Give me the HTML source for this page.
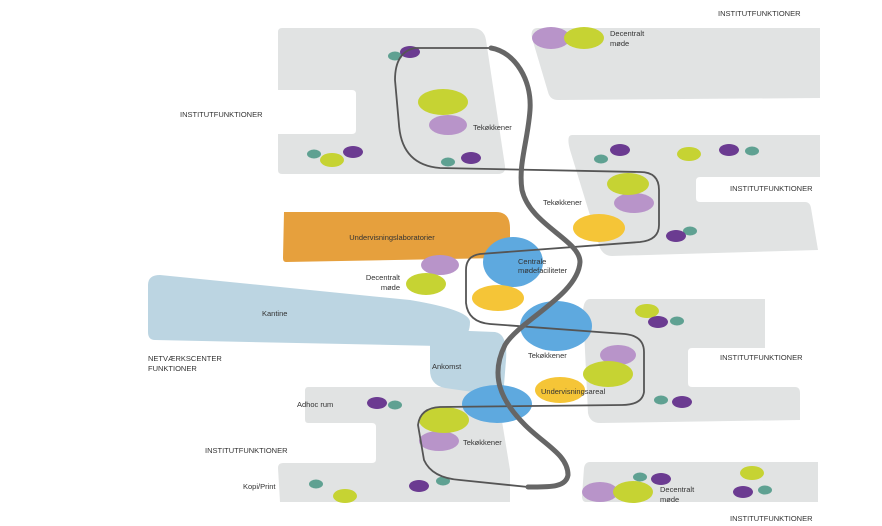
<!DOCTYPE html>
<html><head><meta charset="utf-8"><style>
html,body{margin:0;padding:0;background:#fff;}
svg{display:block;}
text{font-family:"Liberation Sans",sans-serif;font-size:7.5px;fill:#333;}
</style></head><body>
<svg width="882" height="526" viewBox="0 0 882 526" xmlns="http://www.w3.org/2000/svg">
<g fill="#e1e3e3">
<path d="M282,28 L472,28 Q484,28 486,40 L505,166 Q506,174 498,174 L282,174 Q278,174 278,170 L278,134 L352,134 Q356,134 356,130 L356,94 Q356,90 352,90 L278,90 L278,32 Q278,28 282,28 Z"/>
<path d="M538,28 L820,28 L820,98 L558,100 Q550,100 548,92 L532,38 Q530,28 538,28 Z"/>
<path d="M572,135 L820,135 L820,177 L700,177 Q696,177 696,181 L696,198 Q696,202 700,202 L805,202 Q810,202 811,208 L818,250 L612,256 Q604,256 600,248 L570,150 Q566,135 572,135 Z"/>
<path d="M590,299 L765,299 L765,348 L692,348 Q688,348 688,352 L688,383 Q688,387 692,387 L795,387 Q800,387 800,393 L800,420 L600,423 Q590,423 588,413 L584,330 Q580,299 590,299 Z"/>
<path d="M308,387 L485,387 Q495,387 498,397 L510,470 L510,502 L280,502 L278,468 Q278,463 283,463 L372,463 Q376,463 376,459 L376,427 Q376,423 372,423 L308,423 Q305,423 305,419 L305,391 Q305,387 308,387 Z"/>
<path d="M590,462 L818,462 L818,502 L586,502 Q582,502 582,496 L584,468 Q585,462 590,462 Z"/>
</g>
<path d="M284,212 L496,212 Q510,212 510,228 L510,252 Q510,258 500,258 L286,262 Q283,262 283,258 Z" fill="#e6a03d"/>
<path d="M160,275 L410,300 Q470,310 470,322 Q470,345 440,346 L155,340 Q148,340 148,332 L148,285 Q148,275 160,275 Z" fill="#bcd5e2"/>
<path d="M445,330 L495,332 Q508,334 506,360 L504,385 Q500,395 480,393 L445,388 Q430,385 430,370 L430,345 Q430,330 445,330 Z" fill="#bcd5e2"/>
<g fill="#5ea9df">
<ellipse cx="513" cy="262" rx="30" ry="25"/>
<ellipse cx="556" cy="326" rx="36" ry="25"/>
<ellipse cx="497" cy="404" rx="35" ry="19"/>
</g>
<g fill="#f5c537">
<ellipse cx="599" cy="228" rx="26" ry="14"/>
<ellipse cx="498" cy="298" rx="26" ry="13"/>
<ellipse cx="560" cy="390" rx="25" ry="13"/>
</g>
<g fill="#b894c9">
<ellipse cx="551" cy="38" rx="19" ry="11"/>
<ellipse cx="448" cy="125" rx="19" ry="10"/>
<ellipse cx="634" cy="203" rx="20" ry="10"/>
<ellipse cx="440" cy="265" rx="19" ry="10"/>
<ellipse cx="618" cy="355" rx="18" ry="10"/>
<ellipse cx="439" cy="441" rx="20" ry="10"/>
<ellipse cx="600" cy="492" rx="18" ry="10"/>
</g>
<g fill="#c6d333">
<ellipse cx="584" cy="38" rx="20" ry="11"/>
<ellipse cx="443" cy="102" rx="25" ry="13"/>
<ellipse cx="628" cy="184" rx="21" ry="11"/>
<ellipse cx="426" cy="284" rx="20" ry="11"/>
<ellipse cx="608" cy="374" rx="25" ry="13"/>
<ellipse cx="444" cy="420" rx="25" ry="13"/>
<ellipse cx="633" cy="492" rx="20" ry="11"/>
<ellipse cx="332" cy="160" rx="12" ry="7"/>
<ellipse cx="689" cy="154" rx="12" ry="7"/>
<ellipse cx="647" cy="311" rx="12" ry="7"/>
<ellipse cx="345" cy="496" rx="12" ry="7"/>
<ellipse cx="752" cy="473" rx="12" ry="7"/>
</g>
<g fill="#5fa192">
<ellipse cx="395" cy="56" rx="7" ry="4.5"/>
<ellipse cx="314" cy="154" rx="7" ry="4.5"/>
<ellipse cx="448" cy="162" rx="7" ry="4.5"/>
<ellipse cx="601" cy="159" rx="7" ry="4.5"/>
<ellipse cx="752" cy="151" rx="7" ry="4.5"/>
<ellipse cx="690" cy="231" rx="7" ry="4.5"/>
<ellipse cx="677" cy="321" rx="7" ry="4.5"/>
<ellipse cx="661" cy="400" rx="7" ry="4.5"/>
<ellipse cx="395" cy="405" rx="7" ry="4.5"/>
<ellipse cx="316" cy="484" rx="7" ry="4.5"/>
<ellipse cx="443" cy="481" rx="7" ry="4.5"/>
<ellipse cx="640" cy="477" rx="7" ry="4.5"/>
<ellipse cx="765" cy="490" rx="7" ry="4.5"/>
</g>
<g fill="#6b3b91">
<ellipse cx="410" cy="52" rx="10" ry="6"/>
<ellipse cx="353" cy="152" rx="10" ry="6"/>
<ellipse cx="471" cy="158" rx="10" ry="6"/>
<ellipse cx="620" cy="150" rx="10" ry="6"/>
<ellipse cx="729" cy="150" rx="10" ry="6"/>
<ellipse cx="676" cy="236" rx="10" ry="6"/>
<ellipse cx="658" cy="322" rx="10" ry="6"/>
<ellipse cx="682" cy="402" rx="10" ry="6"/>
<ellipse cx="377" cy="403" rx="10" ry="6"/>
<ellipse cx="419" cy="486" rx="10" ry="6"/>
<ellipse cx="661" cy="479" rx="10" ry="6"/>
<ellipse cx="743" cy="492" rx="10" ry="6"/>
</g>
<path d="M415,48 L491,48 M415,48 Q395,52 395,80 L399,125 Q402,165 440,168 L640,172 Q659,172 659,190 L659,225 Q659,240 640,242 L480,254 Q466,256 466,270 L466,303 Q468,322 490,324 L625,334 Q644,336 644,352 L644,392 Q642,405 622,405 L440,407 Q420,408 418,425 L424,460 Q432,478 460,480 L528,487" fill="none" stroke="#555" stroke-width="1.8"/>
<path d="M491,48 C515,52 532,80 530,110 C528,140 518,165 522,190 C530,225 580,240 580,262 C578,295 520,320 505,345 C490,375 500,400 525,425 C545,445 568,455 568,475 C566,488 548,487 528,487" fill="none" stroke="#666" stroke-width="5" stroke-linecap="round"/>
<text x="718" y="16">INSTITUTFUNKTIONER</text>
<text x="180" y="117">INSTITUTFUNKTIONER</text>
<text x="730" y="191">INSTITUTFUNKTIONER</text>
<text x="720" y="360">INSTITUTFUNKTIONER</text>
<text x="205" y="453">INSTITUTFUNKTIONER</text>
<text x="730" y="521">INSTITUTFUNKTIONER</text>
<text x="148" y="361">NETVÆRKSCENTER</text>
<text x="148" y="371">FUNKTIONER</text>
<text x="610" y="36">Decentralt</text>
<text x="610" y="46">møde</text>
<text x="400" y="280" text-anchor="end">Decentralt</text>
<text x="400" y="290" text-anchor="end">møde</text>
<text x="660" y="492">Decentralt</text>
<text x="660" y="502">møde</text>
<text x="473" y="130">Tekøkkener</text>
<text x="543" y="205">Tekøkkener</text>
<text x="528" y="358">Tekøkkener</text>
<text x="463" y="445">Tekøkkener</text>
<text x="518" y="264">Centrale</text>
<text x="518" y="273">mødefaciliteter</text>
<text x="392" y="240" text-anchor="middle">Undervisningslaboratorier</text>
<text x="262" y="316">Kantine</text>
<text x="432" y="369">Ankomst</text>
<text x="541" y="394">Undervisningsareal</text>
<text x="297" y="407">Adhoc rum</text>
<text x="243" y="489">Kopi/Print</text>
</svg>
</body></html>
